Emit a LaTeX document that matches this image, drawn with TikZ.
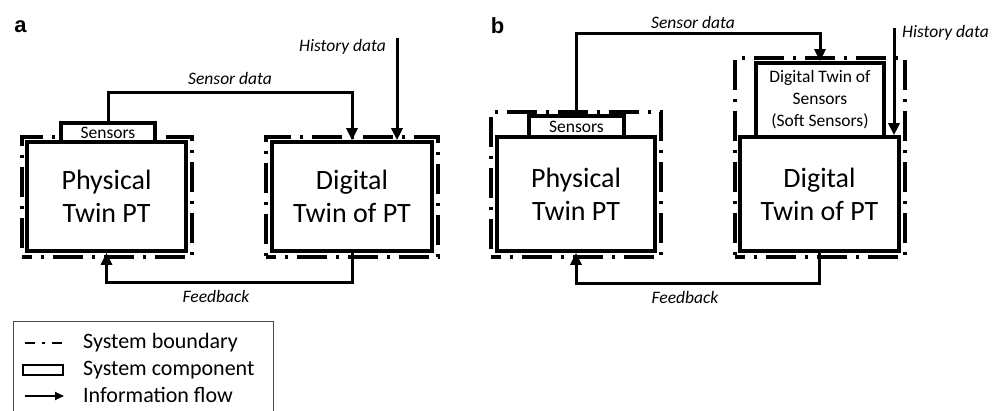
\documentclass[tikz,border=0pt]{standalone}
\usepackage{fontspec}
\setmainfont{Carlito}
\newfontfamily\panelfont{Liberation Sans}
\usetikzlibrary{arrows.meta}

\tikzset{
  comp/.style={draw=black, line width=3.6pt, fill=white, inner sep=0pt, align=center},
  bigtext/.style={font=\fontsize{28}{33}\selectfont},
  smalltext/.style={font=\fontsize{17.5}{22}\selectfont},
  bound/.style={draw=black, line width=3.8pt, inner sep=0pt,
    dash pattern=on 30pt off 9pt on 3pt off 9pt, dash phase=20pt},
  flow/.style={draw=black, line width=3pt,
    -{Triangle[length=12pt,width=11pt]}},
  lbl/.style={font=\fontsize{17.5}{21}\selectfont\itshape, inner sep=0pt},
  panel/.style={font=\panelfont\bfseries\fontsize{22}{26}\selectfont, inner sep=0pt},
  legtext/.style={font=\fontsize{22}{26}\selectfont, anchor=west, inner sep=0pt}
}

\begin{document}
\begin{tikzpicture}[x=1pt,y=-1pt]
\useasboundingbox (0,0) rectangle (999,411);

% ---------------- panel a ----------------
\node[panel] (la) at (20.5,27) {a};

\node[bound, minimum width=170pt, minimum height=120pt] (ba1) at (107,197) {};
\node[bound, minimum width=172pt, minimum height=120pt] (ba2) at (352,197) {};

\node[comp, bigtext, minimum width=159pt, minimum height=109pt] (pa) at (106.5,196.5) {Physical\\Twin PT};
\node[comp, smalltext, minimum width=94pt, minimum height=19pt] (sa) at (108,132.5) {Sensors};
\node[comp, bigtext, minimum width=160pt, minimum height=109pt] (da) at (352,196.5) {Digital\\Twin of PT};

\coordinate (topa) at (0,93);
\coordinate (bota) at (0,283);
\coordinate (ha) at (397,38);

\draw[flow] (sa.north) -- (sa.north |- topa) -- (da.north |- topa) -- (da.north);
\draw[flow] (ha) -- (ha |- da.north);
\draw[flow] (da.south) -- (da.south |- bota) -- (pa.south |- bota) -- (pa.south);

\node[lbl] (sda) at (230,78) {Sensor data};
\node[lbl, anchor=east] (hda) at (386,47) {History data};
\node[lbl] (fba) at (216,296) {Feedback};

% ---------------- panel b ----------------
\node[panel] (lb) at (497.5,26) {b};

\node[bound, minimum width=170pt, minimum height=145pt] (bb1) at (576,184.5) {};
\node[bound, minimum width=170pt, minimum height=199pt] (bb2) at (820,157.5) {};

\node[comp, bigtext, minimum width=158pt, minimum height=114pt] (pb) at (576,194) {Physical\\Twin PT};
\node[comp, smalltext, minimum width=95pt, minimum height=21pt] (sb) at (576.5,126.5) {Sensors};
\node[comp, smalltext, minimum width=128pt, minimum height=74pt] (dsb) at (820,100) {Digital Twin of\\Sensors\\(Soft Sensors)};
\node[comp, bigtext, minimum width=159pt, minimum height=114pt] (db) at (819.5,194) {Digital\\Twin of PT};

\coordinate (topb) at (0,34);
\coordinate (botb) at (0,284);
\coordinate (hb) at (894,28);

\draw[flow] (sb.north) -- (sb.north |- topb) -- (dsb.north |- topb) -- (dsb.north);
\draw[flow] (hb) -- (hb |- db.north);
\draw[flow] (db.south) -- (db.south |- botb) -- (pb.south |- botb) -- (pb.south);

\node[lbl] (sdb) at (693,22) {Sensor data};
\node[lbl, anchor=west] (hdb) at (902,33) {History data};
\node[lbl] (fbb) at (685,297) {Feedback};

% ---------------- legend ----------------
\draw[draw=black!70, line width=1pt] (13,322) rectangle (273,420);

\coordinate (l1a) at (25,343);
\coordinate (l1b) at (65,343);
\draw[line width=2.2pt, dash pattern=on 10pt off 7pt on 3pt off 7pt] (l1a) -- (l1b);
\node[legtext] (t1) at (83,343) {System boundary};

\node[draw, line width=2.2pt, minimum width=40pt, minimum height=10pt, inner sep=0pt] (lr) at (43,370) {};
\node[legtext] (t2) at (83,370) {System component};

\coordinate (l3a) at (25,396);
\coordinate (l3b) at (64,396);
\draw[line width=2.2pt, -{Triangle[length=9pt,width=8pt]}] (l3a) -- (l3b);
\node[legtext] (t3) at (83,395) {Information flow};
\end{tikzpicture}
\end{document}
